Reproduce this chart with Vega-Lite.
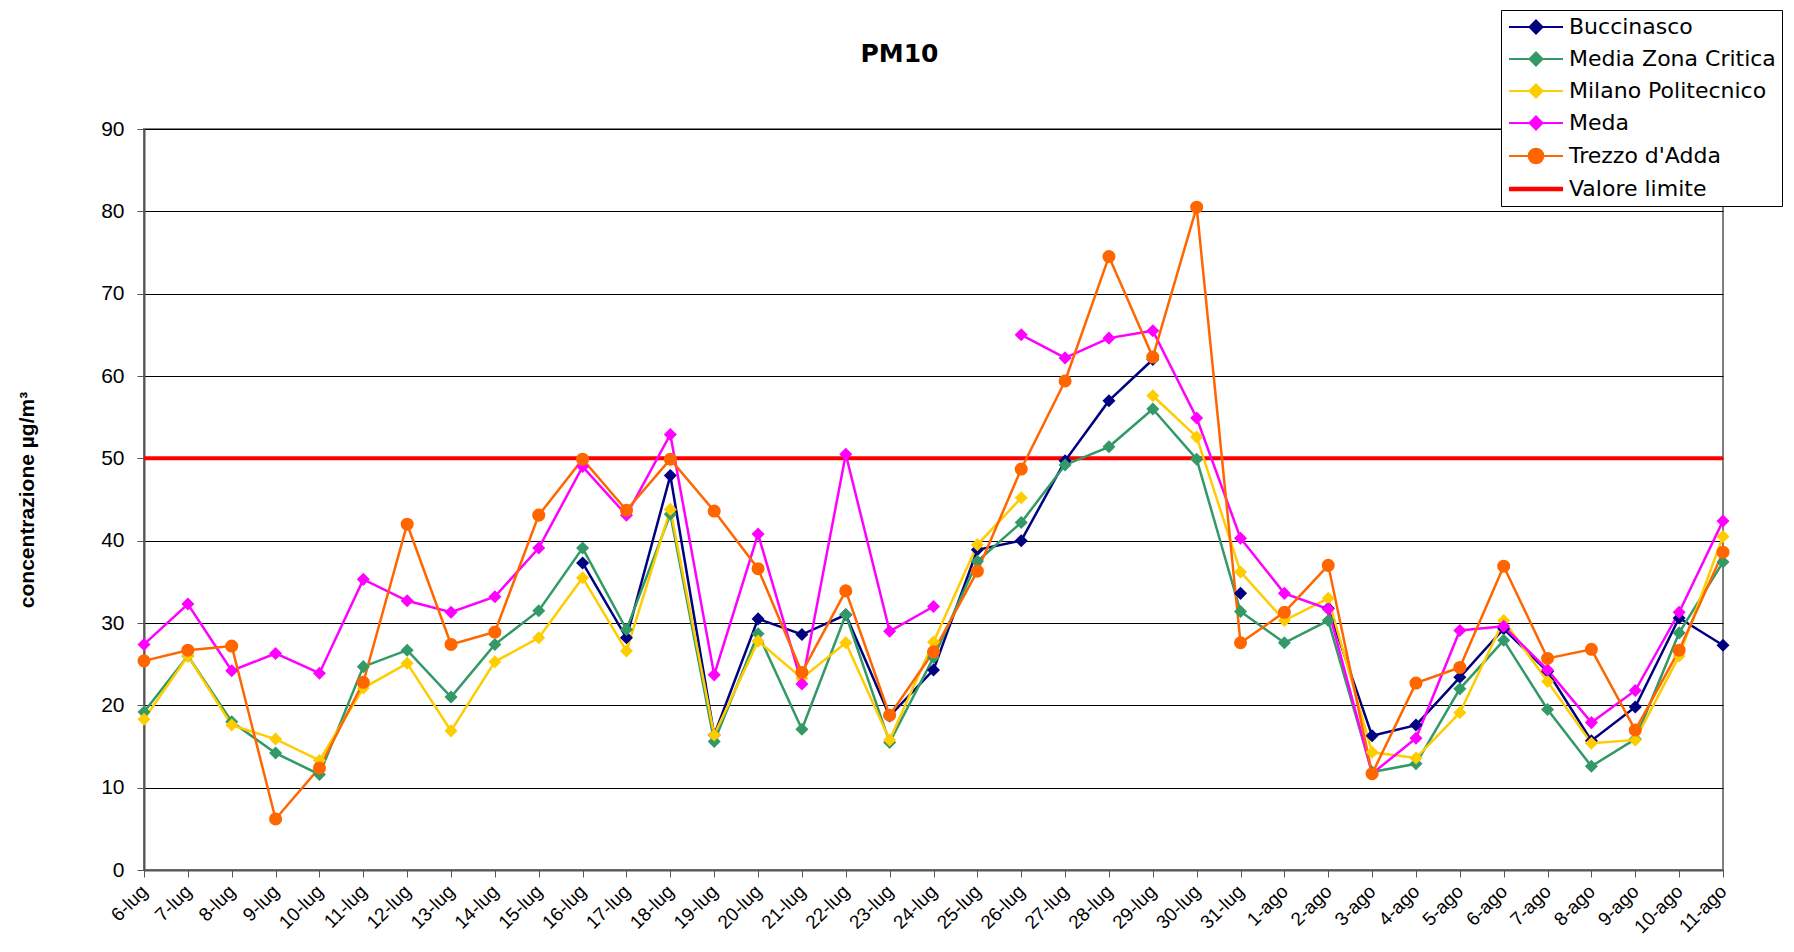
{
  "$schema": "https://vega.github.io/schema/vega-lite/v6.json",
  "width": 1579,
  "height": 741,
  "autosize": {"type": "none"},
  "padding": {"left": 144, "top": 129, "right": 71, "bottom": 82},
  "background": "white",
  "title": {"text": "PM10", "frame": "group", "anchor": "middle", "dx": -34, "offset": -77, "baseline": "alphabetic", "font": "DejaVu Sans", "fontSize": 25, "fontWeight": "bold", "color": "#000000"},
  "data": {"values": [
    {"date": "6-lug", "series": "Buccinasco", "value": null},
    {"date": "7-lug", "series": "Buccinasco", "value": null},
    {"date": "8-lug", "series": "Buccinasco", "value": null},
    {"date": "9-lug", "series": "Buccinasco", "value": null},
    {"date": "10-lug", "series": "Buccinasco", "value": null},
    {"date": "11-lug", "series": "Buccinasco", "value": null},
    {"date": "12-lug", "series": "Buccinasco", "value": null},
    {"date": "13-lug", "series": "Buccinasco", "value": null},
    {"date": "14-lug", "series": "Buccinasco", "value": null},
    {"date": "15-lug", "series": "Buccinasco", "value": null},
    {"date": "16-lug", "series": "Buccinasco", "value": 37.3},
    {"date": "17-lug", "series": "Buccinasco", "value": 28.2},
    {"date": "18-lug", "series": "Buccinasco", "value": 47.9},
    {"date": "19-lug", "series": "Buccinasco", "value": 16.4},
    {"date": "20-lug", "series": "Buccinasco", "value": 30.5},
    {"date": "21-lug", "series": "Buccinasco", "value": 28.6},
    {"date": "22-lug", "series": "Buccinasco", "value": 31.0},
    {"date": "23-lug", "series": "Buccinasco", "value": 18.7},
    {"date": "24-lug", "series": "Buccinasco", "value": 24.3},
    {"date": "25-lug", "series": "Buccinasco", "value": 38.9},
    {"date": "26-lug", "series": "Buccinasco", "value": 40.0},
    {"date": "27-lug", "series": "Buccinasco", "value": 49.7},
    {"date": "28-lug", "series": "Buccinasco", "value": 57.0},
    {"date": "29-lug", "series": "Buccinasco", "value": 62.0},
    {"date": "30-lug", "series": "Buccinasco", "value": null},
    {"date": "31-lug", "series": "Buccinasco", "value": 33.6},
    {"date": "1-ago", "series": "Buccinasco", "value": null},
    {"date": "2-ago", "series": "Buccinasco", "value": 31.8},
    {"date": "3-ago", "series": "Buccinasco", "value": 16.3},
    {"date": "4-ago", "series": "Buccinasco", "value": 17.6},
    {"date": "5-ago", "series": "Buccinasco", "value": 23.4},
    {"date": "6-ago", "series": "Buccinasco", "value": 29.3},
    {"date": "7-ago", "series": "Buccinasco", "value": 24.1},
    {"date": "8-ago", "series": "Buccinasco", "value": 15.7},
    {"date": "9-ago", "series": "Buccinasco", "value": 19.8},
    {"date": "10-ago", "series": "Buccinasco", "value": 30.6},
    {"date": "11-ago", "series": "Buccinasco", "value": 27.3},

    {"date": "6-lug", "series": "Media Zona Critica", "value": 19.2},
    {"date": "7-lug", "series": "Media Zona Critica", "value": 26.0},
    {"date": "8-lug", "series": "Media Zona Critica", "value": 18.0},
    {"date": "9-lug", "series": "Media Zona Critica", "value": 14.2},
    {"date": "10-lug", "series": "Media Zona Critica", "value": 11.6},
    {"date": "11-lug", "series": "Media Zona Critica", "value": 24.7},
    {"date": "12-lug", "series": "Media Zona Critica", "value": 26.7},
    {"date": "13-lug", "series": "Media Zona Critica", "value": 21.0},
    {"date": "14-lug", "series": "Media Zona Critica", "value": 27.4},
    {"date": "15-lug", "series": "Media Zona Critica", "value": 31.5},
    {"date": "16-lug", "series": "Media Zona Critica", "value": 39.1},
    {"date": "17-lug", "series": "Media Zona Critica", "value": 29.2},
    {"date": "18-lug", "series": "Media Zona Critica", "value": 43.2},
    {"date": "19-lug", "series": "Media Zona Critica", "value": 15.6},
    {"date": "20-lug", "series": "Media Zona Critica", "value": 28.7},
    {"date": "21-lug", "series": "Media Zona Critica", "value": 17.1},
    {"date": "22-lug", "series": "Media Zona Critica", "value": 31.0},
    {"date": "23-lug", "series": "Media Zona Critica", "value": 15.5},
    {"date": "24-lug", "series": "Media Zona Critica", "value": 25.8},
    {"date": "25-lug", "series": "Media Zona Critica", "value": 37.5},
    {"date": "26-lug", "series": "Media Zona Critica", "value": 42.2},
    {"date": "27-lug", "series": "Media Zona Critica", "value": 49.2},
    {"date": "28-lug", "series": "Media Zona Critica", "value": 51.4},
    {"date": "29-lug", "series": "Media Zona Critica", "value": 56.0},
    {"date": "30-lug", "series": "Media Zona Critica", "value": 49.9},
    {"date": "31-lug", "series": "Media Zona Critica", "value": 31.4},
    {"date": "1-ago", "series": "Media Zona Critica", "value": 27.6},
    {"date": "2-ago", "series": "Media Zona Critica", "value": 30.3},
    {"date": "3-ago", "series": "Media Zona Critica", "value": 11.9},
    {"date": "4-ago", "series": "Media Zona Critica", "value": 12.9},
    {"date": "5-ago", "series": "Media Zona Critica", "value": 22.0},
    {"date": "6-ago", "series": "Media Zona Critica", "value": 27.9},
    {"date": "7-ago", "series": "Media Zona Critica", "value": 19.5},
    {"date": "8-ago", "series": "Media Zona Critica", "value": 12.6},
    {"date": "9-ago", "series": "Media Zona Critica", "value": 15.9},
    {"date": "10-ago", "series": "Media Zona Critica", "value": 28.8},
    {"date": "11-ago", "series": "Media Zona Critica", "value": 37.4},

    {"date": "6-lug", "series": "Milano Politecnico", "value": 18.3},
    {"date": "7-lug", "series": "Milano Politecnico", "value": 26.0},
    {"date": "8-lug", "series": "Milano Politecnico", "value": 17.6},
    {"date": "9-lug", "series": "Milano Politecnico", "value": 15.9},
    {"date": "10-lug", "series": "Milano Politecnico", "value": 13.3},
    {"date": "11-lug", "series": "Milano Politecnico", "value": 22.1},
    {"date": "12-lug", "series": "Milano Politecnico", "value": 25.1},
    {"date": "13-lug", "series": "Milano Politecnico", "value": 16.9},
    {"date": "14-lug", "series": "Milano Politecnico", "value": 25.3},
    {"date": "15-lug", "series": "Milano Politecnico", "value": 28.2},
    {"date": "16-lug", "series": "Milano Politecnico", "value": 35.5},
    {"date": "17-lug", "series": "Milano Politecnico", "value": 26.6},
    {"date": "18-lug", "series": "Milano Politecnico", "value": 43.8},
    {"date": "19-lug", "series": "Milano Politecnico", "value": 16.4},
    {"date": "20-lug", "series": "Milano Politecnico", "value": 27.8},
    {"date": "21-lug", "series": "Milano Politecnico", "value": 23.3},
    {"date": "22-lug", "series": "Milano Politecnico", "value": 27.6},
    {"date": "23-lug", "series": "Milano Politecnico", "value": 15.8},
    {"date": "24-lug", "series": "Milano Politecnico", "value": 27.7},
    {"date": "25-lug", "series": "Milano Politecnico", "value": 39.5},
    {"date": "26-lug", "series": "Milano Politecnico", "value": 45.2},
    {"date": "27-lug", "series": "Milano Politecnico", "value": null},
    {"date": "28-lug", "series": "Milano Politecnico", "value": null},
    {"date": "29-lug", "series": "Milano Politecnico", "value": 57.6},
    {"date": "30-lug", "series": "Milano Politecnico", "value": 52.6},
    {"date": "31-lug", "series": "Milano Politecnico", "value": 36.2},
    {"date": "1-ago", "series": "Milano Politecnico", "value": 30.3},
    {"date": "2-ago", "series": "Milano Politecnico", "value": 33.0},
    {"date": "3-ago", "series": "Milano Politecnico", "value": 14.3},
    {"date": "4-ago", "series": "Milano Politecnico", "value": 13.6},
    {"date": "5-ago", "series": "Milano Politecnico", "value": 19.1},
    {"date": "6-ago", "series": "Milano Politecnico", "value": 30.3},
    {"date": "7-ago", "series": "Milano Politecnico", "value": 22.9},
    {"date": "8-ago", "series": "Milano Politecnico", "value": 15.4},
    {"date": "9-ago", "series": "Milano Politecnico", "value": 15.8},
    {"date": "10-ago", "series": "Milano Politecnico", "value": 26.0},
    {"date": "11-ago", "series": "Milano Politecnico", "value": 40.5},

    {"date": "6-lug", "series": "Meda", "value": 27.4},
    {"date": "7-lug", "series": "Meda", "value": 32.3},
    {"date": "8-lug", "series": "Meda", "value": 24.2},
    {"date": "9-lug", "series": "Meda", "value": 26.3},
    {"date": "10-lug", "series": "Meda", "value": 23.9},
    {"date": "11-lug", "series": "Meda", "value": 35.3},
    {"date": "12-lug", "series": "Meda", "value": 32.7},
    {"date": "13-lug", "series": "Meda", "value": 31.3},
    {"date": "14-lug", "series": "Meda", "value": 33.2},
    {"date": "15-lug", "series": "Meda", "value": 39.1},
    {"date": "16-lug", "series": "Meda", "value": 49.0},
    {"date": "17-lug", "series": "Meda", "value": 43.1},
    {"date": "18-lug", "series": "Meda", "value": 52.9},
    {"date": "19-lug", "series": "Meda", "value": 23.7},
    {"date": "20-lug", "series": "Meda", "value": 40.8},
    {"date": "21-lug", "series": "Meda", "value": 22.6},
    {"date": "22-lug", "series": "Meda", "value": 50.5},
    {"date": "23-lug", "series": "Meda", "value": 29.0},
    {"date": "24-lug", "series": "Meda", "value": 32.0},
    {"date": "25-lug", "series": "Meda", "value": null},
    {"date": "26-lug", "series": "Meda", "value": 65.0},
    {"date": "27-lug", "series": "Meda", "value": 62.2},
    {"date": "28-lug", "series": "Meda", "value": 64.6},
    {"date": "29-lug", "series": "Meda", "value": 65.5},
    {"date": "30-lug", "series": "Meda", "value": 54.9},
    {"date": "31-lug", "series": "Meda", "value": 40.3},
    {"date": "1-ago", "series": "Meda", "value": 33.6},
    {"date": "2-ago", "series": "Meda", "value": 31.7},
    {"date": "3-ago", "series": "Meda", "value": 11.7},
    {"date": "4-ago", "series": "Meda", "value": 16.0},
    {"date": "5-ago", "series": "Meda", "value": 29.1},
    {"date": "6-ago", "series": "Meda", "value": 29.6},
    {"date": "7-ago", "series": "Meda", "value": 24.3},
    {"date": "8-ago", "series": "Meda", "value": 17.9},
    {"date": "9-ago", "series": "Meda", "value": 21.8},
    {"date": "10-ago", "series": "Meda", "value": 31.3},
    {"date": "11-ago", "series": "Meda", "value": 42.4},

    {"date": "6-lug", "series": "Trezzo d'Adda", "value": 25.4},
    {"date": "7-lug", "series": "Trezzo d'Adda", "value": 26.7},
    {"date": "8-lug", "series": "Trezzo d'Adda", "value": 27.2},
    {"date": "9-lug", "series": "Trezzo d'Adda", "value": 6.2},
    {"date": "10-lug", "series": "Trezzo d'Adda", "value": 12.4},
    {"date": "11-lug", "series": "Trezzo d'Adda", "value": 22.8},
    {"date": "12-lug", "series": "Trezzo d'Adda", "value": 42.0},
    {"date": "13-lug", "series": "Trezzo d'Adda", "value": 27.4},
    {"date": "14-lug", "series": "Trezzo d'Adda", "value": 28.9},
    {"date": "15-lug", "series": "Trezzo d'Adda", "value": 43.1},
    {"date": "16-lug", "series": "Trezzo d'Adda", "value": 49.9},
    {"date": "17-lug", "series": "Trezzo d'Adda", "value": 43.7},
    {"date": "18-lug", "series": "Trezzo d'Adda", "value": 49.9},
    {"date": "19-lug", "series": "Trezzo d'Adda", "value": 43.6},
    {"date": "20-lug", "series": "Trezzo d'Adda", "value": 36.6},
    {"date": "21-lug", "series": "Trezzo d'Adda", "value": 24.0},
    {"date": "22-lug", "series": "Trezzo d'Adda", "value": 33.9},
    {"date": "23-lug", "series": "Trezzo d'Adda", "value": 18.8},
    {"date": "24-lug", "series": "Trezzo d'Adda", "value": 26.5},
    {"date": "25-lug", "series": "Trezzo d'Adda", "value": 36.3},
    {"date": "26-lug", "series": "Trezzo d'Adda", "value": 48.7},
    {"date": "27-lug", "series": "Trezzo d'Adda", "value": 59.4},
    {"date": "28-lug", "series": "Trezzo d'Adda", "value": 74.5},
    {"date": "29-lug", "series": "Trezzo d'Adda", "value": 62.3},
    {"date": "30-lug", "series": "Trezzo d'Adda", "value": 80.5},
    {"date": "31-lug", "series": "Trezzo d'Adda", "value": 27.6},
    {"date": "1-ago", "series": "Trezzo d'Adda", "value": 31.3},
    {"date": "2-ago", "series": "Trezzo d'Adda", "value": 37.0},
    {"date": "3-ago", "series": "Trezzo d'Adda", "value": 11.7},
    {"date": "4-ago", "series": "Trezzo d'Adda", "value": 22.7},
    {"date": "5-ago", "series": "Trezzo d'Adda", "value": 24.6},
    {"date": "6-ago", "series": "Trezzo d'Adda", "value": 36.9},
    {"date": "7-ago", "series": "Trezzo d'Adda", "value": 25.7},
    {"date": "8-ago", "series": "Trezzo d'Adda", "value": 26.8},
    {"date": "9-ago", "series": "Trezzo d'Adda", "value": 17.0},
    {"date": "10-ago", "series": "Trezzo d'Adda", "value": 26.7},
    {"date": "11-ago", "series": "Trezzo d'Adda", "value": 38.6},

    {"date": "6-lug", "series": "Valore limite", "value": 50},
    {"date": "7-lug", "series": "Valore limite", "value": 50},
    {"date": "8-lug", "series": "Valore limite", "value": 50},
    {"date": "9-lug", "series": "Valore limite", "value": 50},
    {"date": "10-lug", "series": "Valore limite", "value": 50},
    {"date": "11-lug", "series": "Valore limite", "value": 50},
    {"date": "12-lug", "series": "Valore limite", "value": 50},
    {"date": "13-lug", "series": "Valore limite", "value": 50},
    {"date": "14-lug", "series": "Valore limite", "value": 50},
    {"date": "15-lug", "series": "Valore limite", "value": 50},
    {"date": "16-lug", "series": "Valore limite", "value": 50},
    {"date": "17-lug", "series": "Valore limite", "value": 50},
    {"date": "18-lug", "series": "Valore limite", "value": 50},
    {"date": "19-lug", "series": "Valore limite", "value": 50},
    {"date": "20-lug", "series": "Valore limite", "value": 50},
    {"date": "21-lug", "series": "Valore limite", "value": 50},
    {"date": "22-lug", "series": "Valore limite", "value": 50},
    {"date": "23-lug", "series": "Valore limite", "value": 50},
    {"date": "24-lug", "series": "Valore limite", "value": 50},
    {"date": "25-lug", "series": "Valore limite", "value": 50},
    {"date": "26-lug", "series": "Valore limite", "value": 50},
    {"date": "27-lug", "series": "Valore limite", "value": 50},
    {"date": "28-lug", "series": "Valore limite", "value": 50},
    {"date": "29-lug", "series": "Valore limite", "value": 50},
    {"date": "30-lug", "series": "Valore limite", "value": 50},
    {"date": "31-lug", "series": "Valore limite", "value": 50},
    {"date": "1-ago", "series": "Valore limite", "value": 50},
    {"date": "2-ago", "series": "Valore limite", "value": 50},
    {"date": "3-ago", "series": "Valore limite", "value": 50},
    {"date": "4-ago", "series": "Valore limite", "value": 50},
    {"date": "5-ago", "series": "Valore limite", "value": 50},
    {"date": "6-ago", "series": "Valore limite", "value": 50},
    {"date": "7-ago", "series": "Valore limite", "value": 50},
    {"date": "8-ago", "series": "Valore limite", "value": 50},
    {"date": "9-ago", "series": "Valore limite", "value": 50},
    {"date": "10-ago", "series": "Valore limite", "value": 50},
    {"date": "11-ago", "series": "Valore limite", "value": 50}
  ]},
  "encoding": {
    "x": {
      "field": "date", "type": "nominal", "sort": null,
      "scale": {"type": "point", "padding": 0},
      "axis": {"title": null, "labelAngle": -45, "labelAlign": "right", "labelBaseline": "middle", "labelFont": "Liberation Sans", "labelFontSize": 19, "labelColor": "#000000", "labelPadding": 11, "labelOverlap": false, "tickSize": 7, "tickColor": "#555555", "domainColor": "#555555", "domainWidth": 2, "grid": false}
    },
    "y": {
      "field": "value", "type": "quantitative",
      "scale": {"domain": [0, 90], "nice": false, "zero": true},
      "axis": {"title": "concentrazione µg/m³", "titleFont": "Liberation Sans", "titleFontSize": 21, "titleFontWeight": "bold", "titleColor": "#000000", "titlePadding": 63, "values": [0, 10, 20, 30, 40, 50, 60, 70, 80, 90], "labelFont": "Liberation Sans", "labelFontSize": 21, "labelColor": "#000000", "labelPadding": 13, "tickSize": 7, "tickColor": "#555555", "domainColor": "#555555", "domainWidth": 2, "grid": true, "gridColor": "#000000", "gridWidth": 1}
    },
    "color": {
      "field": "series", "type": "nominal",
      "scale": {"domain": ["Buccinasco", "Media Zona Critica", "Milano Politecnico", "Meda", "Trezzo d'Adda", "Valore limite"], "range": ["#000080", "#339966", "#FFCC00", "#FF00FF", "#FF6600", "#FF0000"]},
      "legend": {
        "orient": "none", "legendX": 1357, "legendY": -119, "title": null, "direction": "vertical",
        "fillColor": "#ffffff", "strokeColor": "#000000", "padding": 6,
        "labelFont": "DejaVu Sans", "labelFontSize": 22, "labelColor": "#000000", "labelLimit": 400,
        "rowPadding": 10, "symbolSize": 196, "symbolStrokeWidth": 2, "symbolOffset": 18, "labelOffset": 22,
        "encode": {"symbols": {"update": {
          "shape": {"signal": "datum.value === 'Valore limite' ? 'M-3.86,0L3.86,0' : (datum.value[0] === 'T' ? 'M-3.86,0L3.86,0M-1.05,0A1.05,1.05,0,1,0,1.05,0A1.05,1.05,0,1,0,-1.05,0Z' : 'M-3.86,0L3.86,0M0,-0.93L0.93,0L0,0.93L-0.93,0Z')"},
          "fill": {"scale": "color", "field": "value"},
          "stroke": {"scale": "color", "field": "value"},
          "strokeWidth": {"signal": "datum.value === 'Valore limite' ? 4.5 : 2"},
          "opacity": {"value": 1}
        }}}
      }
    }
  },
  "layer": [
    {
      "transform": [{"filter": "datum.series === 'Valore limite'"}],
      "mark": {"type": "line", "strokeWidth": 4}
    },
    {
      "transform": [{"filter": "datum.series !== 'Valore limite'"}],
      "mark": {"type": "line", "strokeWidth": 2.5, "invalid": "break-paths-filter-domains"}
    },
    {
      "transform": [{"filter": "datum.series !== 'Valore limite' && isValid(datum.value)"}],
      "mark": {"type": "point", "filled": true, "opacity": 1, "size": 170},
      "encoding": {
        "shape": {"field": "series", "type": "nominal", "scale": {"domain": ["Buccinasco", "Media Zona Critica", "Milano Politecnico", "Meda", "Trezzo d'Adda"], "range": ["diamond", "diamond", "diamond", "diamond", "circle"]}, "legend": null}
      }
    }
  ],
  "config": {
    "view": {"stroke": "#808080", "strokeWidth": 2}
  }
}
